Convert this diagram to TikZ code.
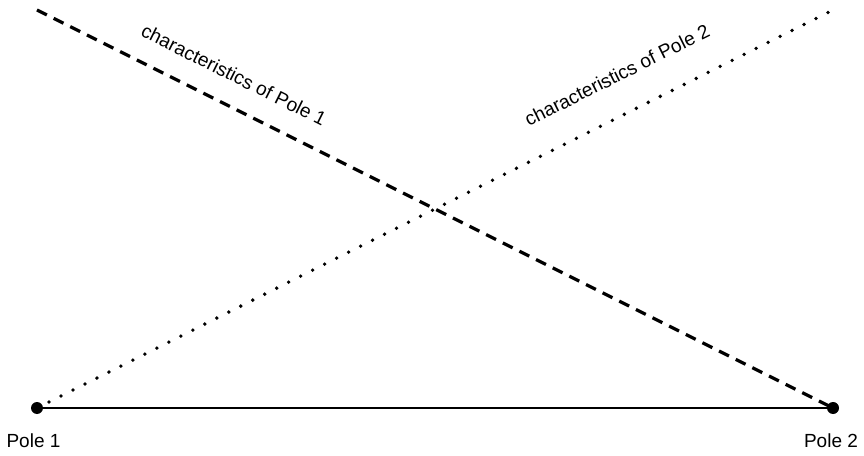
\documentclass[tikz,border=0pt]{standalone}
\usepackage{fontspec}
\setmainfont{Liberation Sans}
\begin{document}
\begin{tikzpicture}[x=1pt,y=1pt,
  poledot/.style={circle,fill=black,inner sep=0pt,minimum size=12pt},
  polelabel/.style={font=\fontsize{19}{22}\selectfont,inner sep=0pt},
  charlabel/.style={font=\fontsize{19.2}{22}\selectfont,inner sep=0pt},
  dashline/.style={line width=3.2pt,dash pattern=on 11pt off 7.6pt},
  dotline/.style={line width=3.8pt,line cap=round,dash pattern=on 0pt off 13.4pt},
  baseline/.style={line width=1.7pt}]
  \useasboundingbox (0,0) rectangle (864,455);
  % end points of the two pole lines
  \coordinate (p1) at (37,47);
  \coordinate (p2) at (833,47);
  \coordinate (tl) at (37,445);
  \coordinate (tr) at (833,445);
  % characteristic lines and the base line
  \draw[dashline] (tl) -- (p2);
  \draw[dotline] (p1) -- (tr);
  \draw[baseline] (p1) -- (p2);
  % the two poles
  \node[poledot] (pole1) at (p1) {};
  \node[poledot] (pole2) at (p2) {};
  \node[polelabel] (l1) at (33.5,14) {Pole 1};
  \node[polelabel] (l2) at (831,14) {Pole 2};
  % labels along the lines
  \node[charlabel,rotate=-26.57] (c1) at (234,380) {characteristics of Pole 1};
  \node[charlabel,rotate=26.57] (c2) at (617,380) {characteristics of Pole 2};
\end{tikzpicture}
\end{document}
